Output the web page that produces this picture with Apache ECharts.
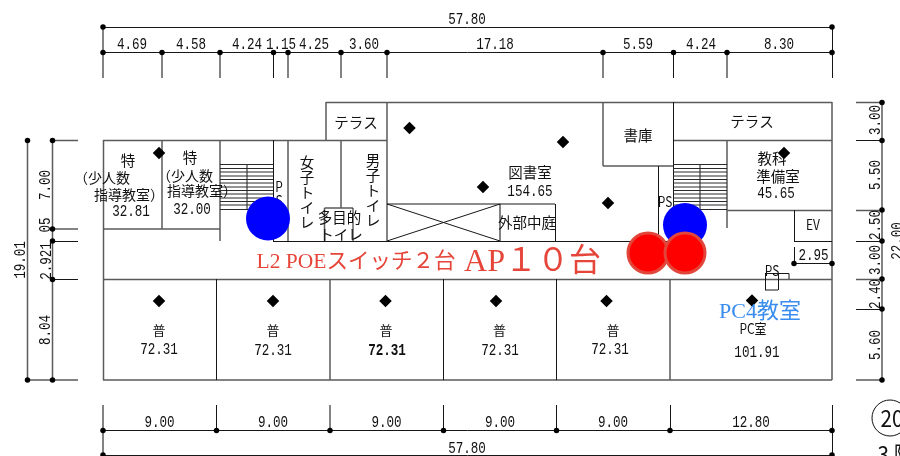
<!DOCTYPE html>
<html>
<head>
<meta charset="utf-8">
<style>html,body{margin:0;padding:0;background:#fff}#c{width:900px;height:456px}</style>
<script src="https://cdn.jsdelivr.net/npm/echarts@6/dist/echarts.min.js"></script>
</head>
<body>
<div id="c"></div>
<script>
// ---- plan geometry, in plan units ----
const heavyLines = [
  // outer walls and room walls
  [326,102.5,832,102.5],[326,102,326,140],[103,140.5,387,140.5],[673,140.5,832,140.5],[103,279.5,832,279.5],[103,380,832,380],
  [103.5,140,103.5,380],[162,140,162,229],[220,140,220,241],[288,140,288,241],[341,140,341,208],[387,102,387,241],
  [603,102,603,166],[603,166,673,166],[727,140,727,228],[727,210.5,832,210.5],
  [330,279,330,380],[324.5,208,353,208],[324.5,208,324.5,241],[500,204,500,241],[103,229,220,229],
  [832,102,832,380],
  // dimension witness lines
  [103,27,103,78],[162,52,162,78],[220,52,220,78],[288,52,288,78],[341,52,341,78],[387,52,387,78],[603,52,603,78],[727,52,727,78],
  [27.5,140,27.5,380],[52.5,140,52.5,380],[52,140.5,78,140.5],[52,229,78,229],[27,380,78,380],
  [882,102,882,380],[856,102.5,882,102.5],[856,210.5,882,210.5],[856,279.5,882,279.5],[856,380,882,380],
  [103,405,103,455],[330,405,330,431],[670,279,670,380]
];
const thinLines = [
  [273.5,140,273.5,241],[273,241.5,673,241.5],[353,208,353,241],[555.5,204,555.5,241],[387,204,555,204],[673.5,102,673.5,228],[658.5,166,658.5,241],
  [794.5,210,794.5,241.5],[794,241.5,832,241.5],[216.5,279,216.5,380],[443.5,279,443.5,380],[556.5,279,556.5,380],
  [247,164,247,210],[700,164,700,210],
  [387,204,500,241],[387,241,500,204],
  [103,27.5,832,27.5],[103,52.5,832,52.5],[273.5,52,273.5,78],[673.5,52,673.5,78],[832.5,27,832.5,78],
  [52,241.5,78,241.5],[52,279.5,78,279.5],[856,140.5,882,140.5],[856,241.5,882,241.5],[856,309.5,882,309.5],
  [794.5,247,794.5,263],[794,263.5,832,263.5],
  [765,273.5,789,273.5],[789,273.5,789,279],[765.5,273.5,765.5,290],[778.5,273.5,778.5,290],[765,290,778,290],
  [103,430.5,832,430.5],[103,455.5,832,455.5],[216.5,405,216.5,431],[443.5,405,443.5,431],[556.5,405,556.5,431],[670.5,405,670.5,431],[832.5,405,832.5,455]
];
const stairTreadY = [164.5,168.5,172,176,179.5,183,187,190.5,194,198,201.5,205,209.5];
const stairSpans = [[220,273],[673,727]];
const dimDots = [
  [103,27],[832,27],[103,52.5],[162,52.5],[220,52.5],[273.5,52.5],[288,52.5],[341,52.5],[387,52.5],[603,52.5],[673.5,52.5],[727,52.5],[832,52.5],
  [27.5,140.5],[52.5,140.5],[52.5,229],[52.5,241],[52.5,279.5],[27.5,380],[52.5,380],
  [882,102.5],[882,140.5],[882,210],[882,241],[882,279],[882,309],[882,380],[794,263.5],[832,263.5],
  [103,430.5],[216.5,430.5],[330,430.5],[443.5,430.5],[556.5,430.5],[670,430.5],[832,430.5],[103,455],[832,455]
];
const accessPoints = [[159,153],[409.5,128],[563,142],[483,187],[608,203],[159,301],[273,301],[385.5,301],[496,301],[606.5,301],[752,300.5],[784,153]];
const poeSwitches = [[268,218.5],[685,225]];
const poeSwitchAps = [[648,253],[685,253]];
const drawingNumberCircle = [[890,418]];

// ---- labels ----
const topDimLabels = ['57.80','4.69','4.58','4.24','1.15','4.25','3.60','17.18','5.59','4.24','8.30'];
const topDimX = [467,132,191,247,281,314,364,495,638,701,779];
const topDimY = [19,44,44,44,44,44,44,44,44,44,44];
const bottomDimLabels = ['9.00','9.00','9.00','9.00','9.00','12.80','57.80','2.95'];
const bottomDimX = [159.5,273,386.5,500,613,751,467,813.5];
const bottomDimY = [422.5,422.5,422.5,422.5,422.5,422.5,448,255.5];
const sideDimLabels = ['19.01','7.00','05','2.921','8.04','3.00','5.50','2.50','3.00','2.40','5.60','22.00'];
const sideDimX = [20,45.5,45.5,46,45.5,875,875,875,875,875,875,897];
const sideDimY = [260,185,225,261,330,120,175,225,260,294,345,241];
const areaLabels = ['32.81','32.00','154.65','45.65','72.31','72.31','72.31','72.31','101.91'];
const areaX = [131,192,530,776,159,273,500,610,757];
const areaY = [211,209,191,193,349,350,350,349,352];
const boldAreaLabels = ['72.31'];
const boldAreaX = [387];
const boldAreaY = [351];
const roomLabels = ['テラス','テラス','書庫','図書室','外部中庭','多目的','トイレ','特','特','教科','準備室'];
const roomX = [356,752,638,530,527,339.5,341,128,190,772,778];
const roomY = [122,121,135,172,222.5,217,234,160,157,158,176];
const noteLabels = ['（少人数','指導教室）','（少人数','指導教室）'];
const noteX = [102,129,185,202];
const noteY = [178,195,176,191];
const ordinaryLabels = ['普','普','普','普','普'];
const ordinaryX = [159,273,386,499.5,613];
const ordinaryY = [330,330,330,330,330];
const verticalRoomLabels = ['女','子','ト','イ','レ','男','子','ト','イ','レ'];
const verticalRoomX = [307,307,307,307,307,373,373,373,373,373];
const verticalRoomY = [162,177,192,207,222,160,175,190,205,220];
const tagLabels = ['P','S','PS','PS','EV','PC室'];
const tagX = [279,279,665,772,813,753];
const tagY = [187,201,202,271,225,329];
const poeLabel = ['L2 POEスイッチ２台'];
const apLabel = ['AP１０台'];
const pcLabel = ['PC4教室'];
const sheetLabels = ['20','3 階'];
const sheetX = [892,896];
const sheetY = [418,454];

// ---- rendering helpers ----
const gothic = '"Noto Sans CJK JP"';
const mono = '"Liberation Mono"';
const serif = '"Liberation Serif","Noto Sans CJK JP"';

function segSeries(rows, color, width) {
  return {
    type: 'custom', coordinateSystem: 'cartesian2d', clip: false, silent: true, z: 2,
    data: rows,
    encode: {x: [0, 2], y: [1, 3]},
    renderItem(p, api) {
      const a = api.coord([api.value(0), api.value(1)]);
      const b = api.coord([api.value(2), api.value(3)]);
      return {type: 'line', shape: {x1: a[0], y1: a[1], x2: b[0], y2: b[1]}, style: {stroke: color, lineWidth: width}};
    }
  };
}
function textSeries(labels, xs, ys, opt) {
  const rows = labels.map((t, i) => [xs[i], ys[i], t]);
  return {
    type: 'custom', coordinateSystem: 'cartesian2d', clip: false, silent: true, z: opt.z || 3,
    data: rows,
    dimensions: ['x', 'y', {name: 'label', type: 'ordinal'}],
    encode: {x: 0, y: 1},
    renderItem(p, api) {
      const c = api.coord([api.value(0), api.value(1)]);
      return {
        type: 'text', x: c[0], y: c[1],
        rotation: opt.rotation || 0,
        scaleX: opt.scaleX || 1, scaleY: 1,
        style: {
          text: rows[p.dataIndex][2], x: 0, y: 0,
          font: opt.font, fill: opt.color || '#111',
          align: 'center', verticalAlign: 'middle'
        }
      };
    }
  };
}
function markSeries(points, symbol, size, itemStyle, z) {
  return {type: 'scatter', data: points, symbol, symbolSize: size, itemStyle: {opacity: 1, ...itemStyle}, silent: true, clip: false, z, animation: false};
}

const treadRows = [];
stairSpans.forEach(s => stairTreadY.forEach(y => treadRows.push([s[0], y, s[1], y])));

const digitStyle = {font: '17px ' + mono, scaleX: 0.74};

const series = [
  segSeries(heavyLines, '#5a5a5a', 1.5),
  segSeries(thinLines, '#161616', 1),
  segSeries(treadRows, '#2a2a2a', 1),
  markSeries(dimDots, 'circle', 5.5, {color: '#000'}, 4),
  markSeries(accessPoints, 'diamond', 12.5, {color: '#000'}, 4),
  markSeries(drawingNumberCircle, 'circle', 36, {color: '#fff', borderColor: '#111', borderWidth: 1}, 4),
  textSeries(topDimLabels, topDimX, topDimY, digitStyle),
  textSeries(bottomDimLabels, bottomDimX, bottomDimY, digitStyle),
  textSeries(sideDimLabels, sideDimX, sideDimY, {...digitStyle, rotation: Math.PI / 2, z: 5}),
  textSeries(areaLabels, areaX, areaY, digitStyle),
  textSeries(boldAreaLabels, boldAreaX, boldAreaY, {font: 'bold 17px ' + mono, scaleX: 0.74}),
  textSeries(roomLabels, roomX, roomY, {font: '14.5px ' + gothic}),
  textSeries(noteLabels, noteX, noteY, {font: '14px ' + gothic}),
  textSeries(ordinaryLabels, ordinaryX, ordinaryY, {font: '13px ' + gothic}),
  textSeries(verticalRoomLabels, verticalRoomX, verticalRoomY, {font: '14.5px ' + gothic}),
  textSeries(tagLabels, tagX, tagY, {font: '14px ' + gothic, scaleX: 0.85}),
  textSeries(sheetLabels, sheetX, sheetY, {font: '23px ' + gothic, z: 6, scaleX: 0.9}),
  textSeries(poeLabel, [356], [262], {font: '21.5px ' + serif, color: '#e6453a', z: 6}),
  textSeries(apLabel, [532.5], [263], {font: '32px ' + serif, color: '#e6453a', z: 6}),
  textSeries(pcLabel, [760], [312], {font: '22px ' + serif, color: '#3a8dee', z: 6}),
  markSeries(poeSwitches, 'circle', 44, {color: '#0000ff'}, 7),
  markSeries(poeSwitchAps, 'circle', 40, {color: '#ff0000', borderColor: '#e2453a', borderWidth: 3}, 8)
];

const chart = echarts.init(document.getElementById('c'), null, {renderer: 'canvas', width: 900, height: 456});
chart.setOption({
  animation: false,
  backgroundColor: '#fff',
  tooltip: {show: false},
  grid: {left: 0, right: 0, top: 0, bottom: 0},
  xAxis: {type: 'value', min: 0, max: 900, show: false},
  yAxis: {type: 'value', min: 0, max: 456, inverse: true, show: false},
  series
});
</script>
</body>
</html>
